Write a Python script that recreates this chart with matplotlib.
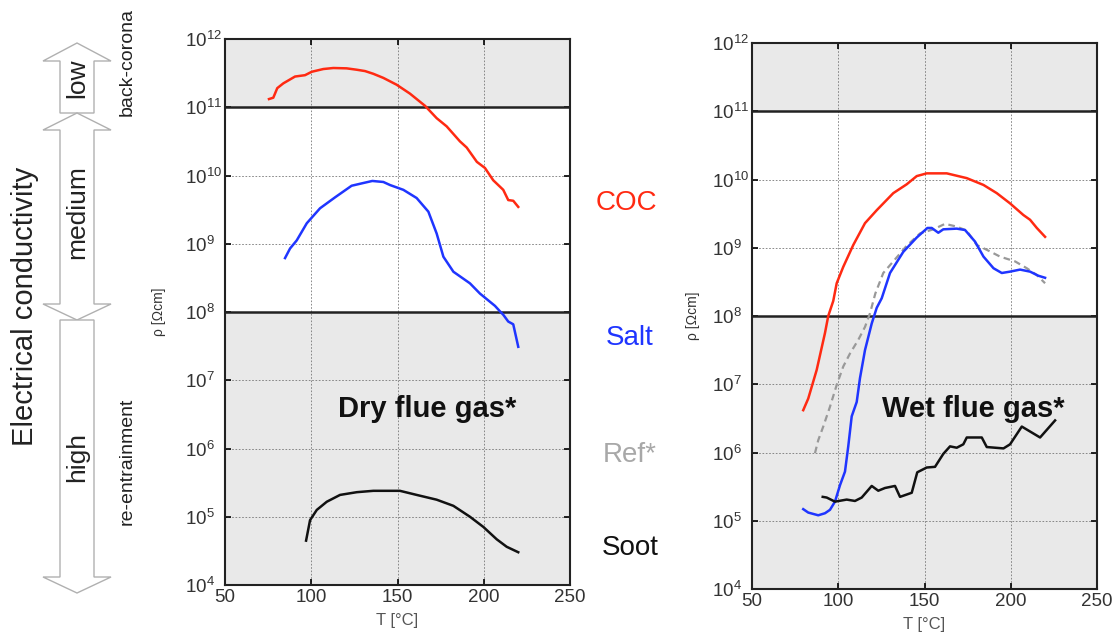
import numpy as np
import matplotlib
matplotlib.use("Agg")
import matplotlib.pyplot as plt
import matplotlib.transforms as mtransforms
from matplotlib.patches import Polygon

plt.rcParams['font.family'] = ['Liberation Sans', 'DejaVu Sans']
plt.rcParams['mathtext.fontset'] = 'custom'
plt.rcParams['mathtext.rm'] = 'Liberation Sans'
plt.rcParams['mathtext.it'] = 'Liberation Sans:italic'
plt.rcParams['mathtext.bf'] = 'Liberation Sans:bold'

# dry flue gas (T in degC, log10 of resistivity)
coc_dry_T = [75.5, 78, 80.3, 83.8, 90.6, 96.4, 100.3, 107, 112.8, 120.5, 126.3, 131.2, 136, 141.8,
             149.5, 157.2, 166, 172.7, 178.5, 186.2, 190.1, 196, 200.7, 205.5, 211.3, 214.2, 217.1, 220]
coc_dry_log = [11.12, 11.14, 11.28, 11.35, 11.45, 11.47, 11.52, 11.56, 11.575, 11.57, 11.55, 11.53, 11.49, 11.43,
               11.33, 11.20, 11.02, 10.84, 10.72, 10.50, 10.41, 10.20, 10.11, 9.93, 9.79, 9.64, 9.63, 9.54]

salt_dry_T = [84.8, 87.7, 91.6, 97.4, 105.1, 113.8, 123.4, 130.2, 135.4, 141.8, 145.7, 153.4, 161.1, 167.9,
              172.7, 176.6, 182.4, 192, 197.8, 203.6, 206.5, 209.4, 211.3, 214.2, 217.1, 220]
salt_dry_log = [8.79, 8.93, 9.05, 9.30, 9.52, 9.68, 9.85, 9.89, 9.92, 9.905, 9.86, 9.79, 9.67, 9.47,
                9.15, 8.81, 8.59, 8.42, 8.27, 8.15, 8.09, 8.01, 7.96, 7.86, 7.82, 7.49]

soot_dry_T = [97, 99.3, 103.2, 109, 116.7, 126.4, 136, 151.4, 161.1, 172.7, 182.4, 192, 199.8, 207.5, 213.3, 220]
soot_dry_log = [4.65, 4.95, 5.10, 5.22, 5.32, 5.36, 5.38, 5.38, 5.32, 5.25, 5.16, 5.00, 4.85, 4.67, 4.56, 4.48]

# wet flue gas
coc_wet_T = [79.7, 82.6, 87.5, 92.3, 94.2, 97.1, 99.1, 102.9, 108.7, 115.5, 122.3, 131.9, 139.7, 145.5,
             151.3, 162.9, 174.5, 184.2, 191.9, 199.6, 207.3, 211.2, 215.1, 219.9]
coc_wet_log = [6.62, 6.79, 7.21, 7.75, 8.0, 8.22, 8.48, 8.72, 9.04, 9.36, 9.55, 9.80, 9.93, 10.05,
               10.09, 10.09, 10.02, 9.92, 9.80, 9.65, 9.48, 9.41, 9.29, 9.16]

salt_wet_T = [79.7, 82.6, 88.4, 92.3, 95.2, 98.1, 101, 103.9, 105.8, 107.8, 110.7, 112.6, 115.5, 119.4,
              122.3, 125.2, 130, 137.7, 145.5, 151.7, 154.2, 158, 160.9, 168.7, 173.5, 179.3, 184.2,
              190, 194.8, 199.6, 205.4, 211.2, 216, 219.9]
salt_wet_log = [5.17, 5.12, 5.08, 5.11, 5.16, 5.28, 5.52, 5.72, 6.09, 6.53, 6.74, 7.09, 7.50, 7.89,
                8.12, 8.26, 8.63, 8.94, 9.15, 9.29, 9.29, 9.22, 9.27, 9.28, 9.26, 9.09, 8.87,
                8.70, 8.63, 8.65, 8.68, 8.65, 8.59, 8.56]

ref_wet_T = [86.5, 88.4, 91.3, 95.2, 99.1, 102.9, 106.8, 111.6, 115.5, 118.4, 121.5, 126.1, 131.9, 139.7,
             147.4, 155.1, 161.9, 168.7, 174.5, 180.3, 186.1, 193.8, 202.5, 209.3, 215.1, 219.9]
ref_wet_log = [5.99, 6.18, 6.38, 6.67, 6.99, 7.26, 7.45, 7.65, 7.84, 8.04, 8.33, 8.63, 8.80, 9.03,
               9.21, 9.27, 9.35, 9.31, 9.25, 9.04, 8.97, 8.87, 8.80, 8.70, 8.60, 8.48]

soot_wet_T = [91, 93.3, 98.1, 104.9, 109.7, 113.6, 119.4, 123.2, 127.1, 132.9, 135.8, 142.6, 145.8, 151.3,
              156.1, 160.9, 164.8, 168.7, 172.5, 174.5, 183.2, 186.1, 195.8, 199.6, 206.4, 217, 225.7]
soot_wet_log = [5.35, 5.34, 5.28, 5.31, 5.29, 5.34, 5.51, 5.44, 5.48, 5.51, 5.35, 5.41, 5.71, 5.78,
                5.79, 5.98, 6.09, 6.07, 6.12, 6.22, 6.22, 6.08, 6.06, 6.12, 6.38, 6.22, 6.47]

red = '#ff2a12'
blue = '#1f35ff'
grey_ref = '#a8a8a8'
shade = '#e9e9e9'

fig = plt.figure(figsize=(11.2, 6.42), dpi=100)

# background overlay in pixel coordinates for the arrows and side texts
bg = fig.add_axes([0, 0, 1, 1], zorder=-1)
bg.set_xlim(0, 1120)
bg.set_ylim(642, 0)
bg.axis('off')

arrow_low = [(77, 43), (111, 61), (94, 61), (94, 113), (60, 113), (60, 61), (43, 61)]
arrow_med = [(77, 113), (111, 130), (94, 130), (94, 304), (111, 304), (77, 320),
             (43, 304), (60, 304), (60, 130), (43, 130)]
arrow_high = [(60, 320), (94, 320), (94, 577), (111, 577), (77, 593), (43, 577), (60, 577)]
for pts in (arrow_low, arrow_med, arrow_high):
    bg.add_patch(Polygon(pts, closed=True, facecolor='white', edgecolor='#b0b0b0', lw=1))

bg.text(77, 78, 'low', rotation=90, ha='center', va='center', fontsize=19, color='#222')
bg.text(77, 212, 'medium', rotation=90, ha='center', va='center', fontsize=19, color='#222')
bg.text(77, 457, 'high', rotation=90, ha='center', va='center', fontsize=19, color='#222')
bg.text(25, 306, 'Electrical conductivity', rotation=90, ha='center', va='center', fontsize=21, color='#222')
bg.text(127, 62, 'back-corona', rotation=90, ha='center', va='center', fontsize=14, color='#222')
bg.text(127, 461, 're-entrainment', rotation=90, ha='center', va='center', fontsize=14, color='#222')

bg.text(626, 203, 'COC', ha='center', va='center', fontsize=20, color=red)
bg.text(630, 338, 'Salt', ha='center', va='center', fontsize=20, color=blue)
bg.text(630, 455, 'Ref*', ha='center', va='center', fontsize=20, color=grey_ref)
bg.text(630, 548, 'Soot', ha='center', va='center', fontsize=20, color='#111')

ax1 = fig.add_axes([225 / 1120, 1 - 585 / 642, 345 / 1120, 546 / 642])
ax2 = fig.add_axes([752 / 1120, 1 - 589 / 642, 345 / 1120, 546 / 642])


def style(ax, label_x):
    ax.set_yscale('log')
    ax.set_xlim(50, 250)
    ax.set_ylim(1e4, 1e12)
    ax.set_yticks([10.0 ** k for k in range(4, 13)])
    ax.minorticks_off()
    ax.set_xticks([50, 100, 150, 200, 250])
    ax.axhspan(1e4, 1e8, color=shade, zorder=0, lw=0)
    ax.axhspan(1e11, 1e12, color=shade, zorder=0, lw=0)
    ax.grid(True, which='major', linestyle=(0, (2, 2)), color='#777', lw=0.6)
    ax.set_axisbelow(True)
    ax.axhline(1e8, color='#222', lw=1.8, zorder=1)
    ax.axhline(1e11, color='#222', lw=1.8, zorder=1)
    for s in ax.spines.values():
        s.set_linewidth(1.5)
        s.set_color('#222')
    ax.tick_params(direction='in', length=4, width=1.2, top=True, right=True,
                   labelsize=13.5, labelcolor='#333', pad=3)
    # y tick labels are left aligned in the original
    shift = mtransforms.ScaledTranslation(-0.36, 0, fig.dpi_scale_trans)
    for lab in ax.get_yticklabels():
        lab.set_horizontalalignment('left')
        lab.set_transform(lab.get_transform() + shift)
    ax.set_xlabel('T [°C]', fontsize=12, color='#555')
    ax.xaxis.set_label_coords(0.5, -0.052)
    ax.set_ylabel('ρ [Ωcm]', fontsize=10, color='#333')
    ax.yaxis.set_label_coords(label_x, 0.5)


style(ax1, -0.172)
style(ax2, -0.15)

ax1.text(202 / 345, (585 - 409) / 546, 'Dry flue gas*', transform=ax1.transAxes, ha='center',
         va='center', fontsize=21, fontweight='bold', color='#111')
ax2.text(221 / 345, (589 - 409) / 546, 'Wet flue gas*', transform=ax2.transAxes, ha='center',
         va='center', fontsize=21, fontweight='bold', color='#111')

ax1.plot(coc_dry_T, 10 ** np.array(coc_dry_log), color=red, lw=1.8)
ax1.plot(salt_dry_T, 10 ** np.array(salt_dry_log), color=blue, lw=1.8)
ax1.plot(soot_dry_T, 10 ** np.array(soot_dry_log), color='#111', lw=1.8)

ax2.plot(coc_wet_T, 10 ** np.array(coc_wet_log), color=red, lw=1.8)
ax2.plot(ref_wet_T, 10 ** np.array(ref_wet_log), color='#999', lw=1.6, linestyle=(0, (3, 2)))
ax2.plot(salt_wet_T, 10 ** np.array(salt_wet_log), color=blue, lw=1.8)
ax2.plot(soot_wet_T, 10 ** np.array(soot_wet_log), color='#111', lw=1.8)

fig.savefig('out.png', dpi=100)
